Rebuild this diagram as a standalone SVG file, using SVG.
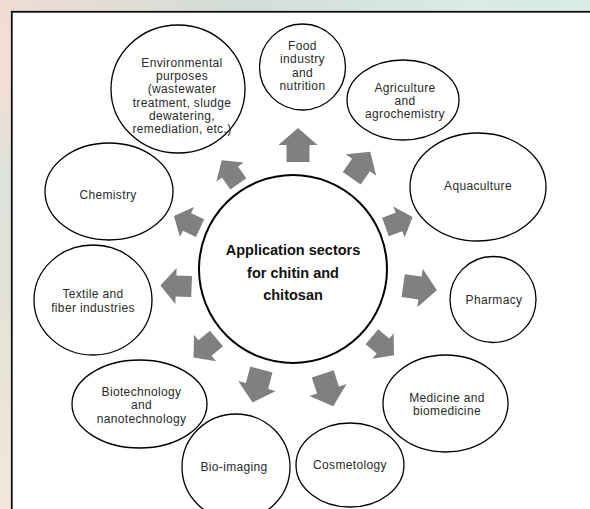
<svg xmlns="http://www.w3.org/2000/svg" width="590" height="509" viewBox="0 0 590 509">
<defs>
<linearGradient id="bgL" x1="0" y1="0" x2="0" y2="1">
<stop offset="0" stop-color="#f3dcd2"/>
<stop offset="0.12" stop-color="#f7ddd3"/>
<stop offset="0.35" stop-color="#dde3dc"/>
<stop offset="0.6" stop-color="#e4e2d6"/>
<stop offset="1" stop-color="#f3e7dc"/>
</linearGradient>
<linearGradient id="bgT" x1="0" y1="0" x2="1" y2="0">
<stop offset="0" stop-color="#efdcd4"/>
<stop offset="0.4" stop-color="#d3ddd7"/>
<stop offset="0.8" stop-color="#d8ebe4"/>
<stop offset="1" stop-color="#d6ece5"/>
</linearGradient>
<path id="arr" d="M-17,-11.5 L0,-11.5 L0,-19.5 L17,0 L0,19.5 L0,11.5 L-17,11.5 Z"/>
</defs>
<style>
.node{fill:#fff;stroke:#000;stroke-width:1.3}
.t{font-family:"Liberation Sans",Arial,sans-serif;font-size:12px;letter-spacing:0.35px;fill:#2a2a2a;text-anchor:middle}
.c{font-family:"Liberation Sans",Arial,sans-serif;font-size:14.5px;font-weight:bold;fill:#111;text-anchor:middle}
.a{fill:#808080}
</style>
<rect x="0" y="0" width="590" height="509" fill="url(#bgL)"/>
<rect x="0" y="0" width="590" height="12" fill="url(#bgT)"/>
<rect x="11.8" y="11.8" width="600" height="600" fill="#fff" stroke="#111" stroke-width="1.8"/>

<g id="connectors">
<use href="#arr" class="a" transform="translate(298,145) rotate(-90)"/>
<use href="#arr" class="a" transform="translate(361,165) rotate(-55) scale(0.95)"/>
<use href="#arr" class="a" transform="translate(399,222) rotate(-20) scale(0.85)"/>
<use href="#arr" class="a" transform="translate(420,288) rotate(8)"/>
<use href="#arr" class="a" transform="translate(383,346) rotate(40) scale(0.85)"/>
<use href="#arr" class="a" transform="translate(328,390) rotate(72)"/>
<use href="#arr" class="a" transform="translate(257,386) rotate(105)"/>
<use href="#arr" class="a" transform="translate(205,348) rotate(140) scale(0.88)"/>
<use href="#arr" class="a" transform="translate(176,286) rotate(182) scale(0.92)"/>
<use href="#arr" class="a" transform="translate(187,222) rotate(205) scale(0.85)"/>
<use href="#arr" class="a" transform="translate(230,172) rotate(235) scale(0.85)"/>
</g>

<g id="center">
<circle cx="293" cy="269" r="94" fill="#fff" stroke="#000" stroke-width="2"/>
<text class="c" x="293" y="255">Application sectors</text>
<text class="c" x="293" y="278">for chitin and</text>
<text class="c" x="293" y="300">chitosan</text>
</g>

<g id="food">
<ellipse class="node" cx="302.5" cy="67" rx="43" ry="43"/>
<text class="t" x="302.5" y="49.5">Food</text>
<text class="t" x="302.5" y="63">industry</text>
<text class="t" x="302.5" y="76.5">and</text>
<text class="t" x="302.5" y="90">nutrition</text>
</g>

<g id="agriculture">
<ellipse class="node" cx="403" cy="100" rx="56" ry="40"/>
<text class="t" x="405" y="92">Agriculture</text>
<text class="t" x="405" y="105">and</text>
<text class="t" x="405" y="118">agrochemistry</text>
</g>

<g id="aquaculture">
<ellipse class="node" cx="478" cy="187" rx="68" ry="54"/>
<text class="t" x="478" y="190">Aquaculture</text>
</g>

<g id="pharmacy">
<ellipse class="node" cx="493" cy="299.5" rx="43" ry="43"/>
<text class="t" x="494" y="303.5">Pharmacy</text>
</g>

<g id="medicine">
<ellipse class="node" cx="445.5" cy="403.5" rx="62.5" ry="48.5"/>
<text class="t" x="447" y="402">Medicine and</text>
<text class="t" x="447" y="415">biomedicine</text>
</g>

<g id="cosmetology">
<ellipse class="node" cx="350" cy="465" rx="54" ry="42"/>
<text class="t" x="350" y="468.5">Cosmetology</text>
</g>

<g id="bioimaging">
<ellipse class="node" cx="236" cy="467" rx="54" ry="53"/>
<text class="t" x="234" y="471">Bio-imaging</text>
</g>

<g id="biotechnology">
<ellipse class="node" cx="139.5" cy="404" rx="67.5" ry="44"/>
<text class="t" x="141.5" y="395.5">Biotechnology</text>
<text class="t" x="141.5" y="409">and</text>
<text class="t" x="141.5" y="422.5">nanotechnology</text>
</g>

<g id="textile">
<ellipse class="node" cx="93" cy="300" rx="59" ry="55"/>
<text class="t" x="93" y="298">Textile and</text>
<text class="t" x="93" y="311.5">fiber industries</text>
</g>

<g id="chemistry">
<ellipse class="node" cx="109" cy="191.5" rx="64" ry="48.5"/>
<text class="t" x="108" y="198.5">Chemistry</text>
</g>

<g id="environmental">
<ellipse class="node" cx="178" cy="89" rx="67" ry="64"/>
<text class="t" x="182" y="66.5">Environmental</text>
<text class="t" x="182" y="80">purposes</text>
<text class="t" x="182" y="93.3">(wastewater</text>
<text class="t" x="182" y="106.6">treatment, sludge</text>
<text class="t" x="182" y="119.9">dewatering,</text>
<text class="t" x="182" y="133.2">remediation, etc.)</text>
</g>
</svg>
